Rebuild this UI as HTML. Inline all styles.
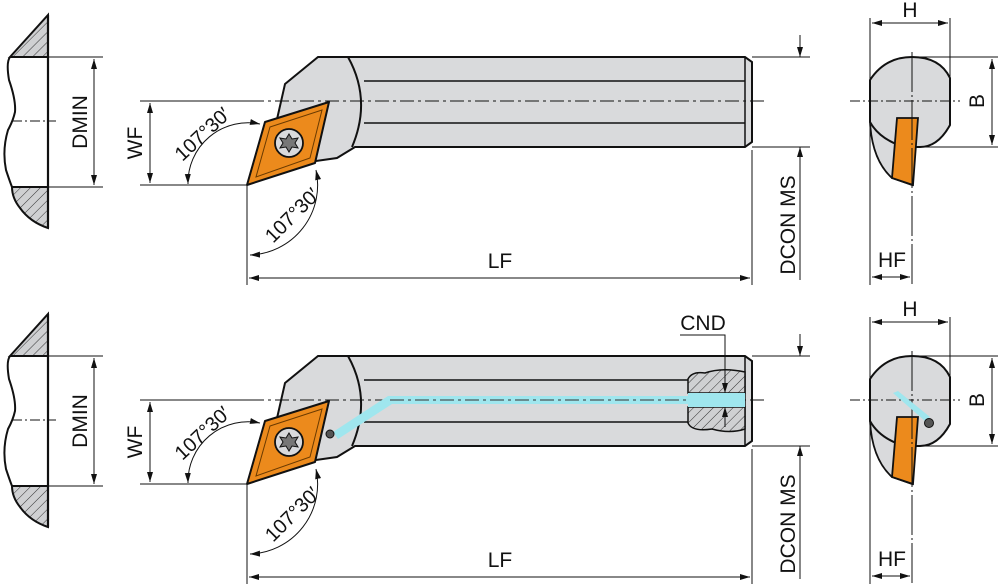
<!DOCTYPE html>
<html><head><meta charset="utf-8"><style>
html,body{margin:0;padding:0;background:#fff;width:1000px;height:587px;overflow:hidden}
svg{display:block}
text{font-family:"Liberation Sans",sans-serif;fill:#111}
</style></head><body>
<svg width="1000" height="587" viewBox="0 0 1000 587" xmlns="http://www.w3.org/2000/svg">
<defs>
<pattern id="h" width="7" height="7" patternUnits="userSpaceOnUse" patternTransform="rotate(45)">
<rect width="7" height="7" fill="#cfd0d2"/><line x1="0" y1="0" x2="0" y2="7" stroke="#333" stroke-width="1"/>
</pattern>
<marker id="a" viewBox="0 0 10 10" refX="10" refY="5" markerWidth="10" markerHeight="10" orient="auto-start-reverse" markerUnits="userSpaceOnUse">
<path d="M0,2 L10,5 L0,8 Z" fill="#111"/></marker>
<g id="tool">
 <path d="M10,57 L48,15 L48,57 Z" fill="url(#h)" stroke="#111" stroke-width="2"/>
 <path d="M12,187 L48,187 L48,228 Q30,222 20,208 Q12,198 12,187 Z" fill="url(#h)" stroke="#111" stroke-width="2"/>
 <path d="M10,57 Q6,62 9,80 Q16,100 15,112 Q13,121 8,130 Q2,150 6,170 Q10,182 12,187" fill="none" stroke="#111" stroke-width="2"/>
 <line x1="48" y1="15" x2="48" y2="228" stroke="#111" stroke-width="2.2"/>
 <line x1="12" y1="121" x2="56" y2="121" stroke="#111" stroke-width="1" stroke-dasharray="10,3,2,3"/>
 <line x1="48" y1="57" x2="103" y2="57" stroke="#111" stroke-width="1"/>
 <line x1="48" y1="187" x2="103" y2="187" stroke="#111" stroke-width="1"/>
 <line x1="94" y1="59" x2="94" y2="185" stroke="#111" stroke-width="1" marker-start="url(#a)" marker-end="url(#a)"/>
 <text x="0" y="0" font-size="21" text-anchor="middle" transform="translate(87,122) rotate(-90)">DMIN</text>
 <path d="M285,84 L318,57 L745,57 L752,62 L752,142 L745,147 L355,147 L337,158 L316,161 L270,150 Z" fill="#d9dadc" stroke="#111" stroke-width="2"/>
 <line x1="745" y1="57" x2="745" y2="147" stroke="#111" stroke-width="1.5"/>
 <path d="M348,57 Q372,100 352,147" fill="none" stroke="#111" stroke-width="2"/>
 <line x1="364" y1="81" x2="745" y2="81" stroke="#111" stroke-width="1.5"/>
 <line x1="364" y1="123" x2="745" y2="123" stroke="#111" stroke-width="1.5"/>
 <line x1="250" y1="101" x2="765" y2="101" stroke="#111" stroke-width="1" stroke-dasharray="14,4,3,4"/>
 <path d="M265,122 L329,102 L315,163 L247,185 Z" fill="#ec8a1c" stroke="#111" stroke-width="2" stroke-linejoin="round"/>
 <path d="M270,127 L322,110 L310,158 L256,177 Z" fill="none" stroke="#6a3a00" stroke-width="1"/>
 <circle cx="289" cy="143" r="14" fill="#d9dadc" stroke="#111" stroke-width="1.8"/>
 <path d="M289,134 L292,139 L298,138 L295,143 L298,148 L292,147 L289,152 L286,147 L280,148 L283,143 L280,138 L286,139 Z" fill="#777" stroke="#111" stroke-width="1"/>
 <line x1="140" y1="101" x2="250" y2="101" stroke="#111" stroke-width="1"/>
 <line x1="140" y1="185" x2="247" y2="185" stroke="#111" stroke-width="1"/>
 <line x1="150" y1="103" x2="150" y2="183" stroke="#111" stroke-width="1" marker-start="url(#a)" marker-end="url(#a)"/>
 <text font-size="21" text-anchor="middle" transform="translate(142,143) rotate(-90)">WF</text>
 <path d="M188,184 A60,60 0 0 1 260,124" fill="none" stroke="#111" stroke-width="1" marker-start="url(#a)" marker-end="url(#a)"/>
 <text font-size="20" text-anchor="middle" transform="translate(207,139) rotate(-43)">107°30′</text>
 <path d="M316,170 A70,70 0 0 1 250,255" fill="none" stroke="#111" stroke-width="1" marker-start="url(#a)" marker-end="url(#a)"/>
 <text font-size="20" text-anchor="middle" transform="translate(297,220) rotate(-45)">107°30′</text>
 <line x1="247" y1="185" x2="247" y2="285" stroke="#111" stroke-width="1"/>
 <line x1="752" y1="150" x2="752" y2="285" stroke="#111" stroke-width="1"/>
 <line x1="249" y1="278" x2="750" y2="278" stroke="#111" stroke-width="1" marker-start="url(#a)" marker-end="url(#a)"/>
 <text x="500" y="268" font-size="21" text-anchor="middle">LF</text>
 <line x1="752" y1="57" x2="810" y2="57" stroke="#111" stroke-width="1"/>
 <line x1="752" y1="147" x2="810" y2="147" stroke="#111" stroke-width="1"/>
 <line x1="800" y1="35" x2="800" y2="57" stroke="#111" stroke-width="1" marker-end="url(#a)"/>
 <line x1="800" y1="280" x2="800" y2="147" stroke="#111" stroke-width="1" marker-end="url(#a)"/>
 <text font-size="21" text-anchor="middle" transform="translate(795,225) rotate(-90)">DCON MS</text>
 <path d="M870,122 Q872,160 892,178 L912,185 L912,150 Z" fill="#d9dadc" stroke="#111" stroke-width="1.8"/>
 <path d="M870,80 Q885,57 912,57 Q940,57 950,78 L950,125 Q938,147 920,147 L905,147 Q880,140 870,122 Z" fill="#d9dadc" stroke="#111" stroke-width="2"/>
 <path d="M897,118 L918,118 L913,185 L892,178 Z" fill="#ec8a1c" stroke="#111" stroke-width="1.8"/>
 <line x1="850" y1="101" x2="960" y2="101" stroke="#111" stroke-width="1" stroke-dasharray="10,3,2,3"/>
 <line x1="912" y1="52" x2="912" y2="285" stroke="#111" stroke-width="1" stroke-dasharray="40,3,2,3"/>
 <line x1="870" y1="18" x2="870" y2="285" stroke="#111" stroke-width="1"/>
 <line x1="950" y1="18" x2="950" y2="78" stroke="#111" stroke-width="1"/>
 <line x1="872" y1="23" x2="948" y2="23" stroke="#111" stroke-width="1" marker-start="url(#a)" marker-end="url(#a)"/>
 <text x="910" y="17" font-size="21" text-anchor="middle">H</text>
 <line x1="912" y1="57" x2="998" y2="57" stroke="#111" stroke-width="1"/>
 <line x1="920" y1="147" x2="998" y2="147" stroke="#111" stroke-width="1"/>
 <line x1="992" y1="59" x2="992" y2="145" stroke="#111" stroke-width="1" marker-start="url(#a)" marker-end="url(#a)"/>
 <text font-size="21" text-anchor="middle" transform="translate(984,101) rotate(-90)">B</text>
 <line x1="872" y1="277" x2="910" y2="277" stroke="#111" stroke-width="1" marker-start="url(#a)" marker-end="url(#a)"/>
 <text x="892" y="267" font-size="21" text-anchor="middle">HF</text>
</g>
</defs>
<use href="#tool"/>
<g transform="translate(0,299)">
 <use href="#tool"/>
 <path d="M333,133 L388,97 L745,97 L745,105 L392,105 L338,140 Z" fill="#9fe6ee"/>
 <line x1="390" y1="101" x2="745" y2="101" stroke="#333" stroke-width="1" stroke-dasharray="14,4,3,4"/>
 <circle cx="330" cy="135" r="4" fill="#555" stroke="#111"/>
 <path d="M688,80 Q692,72 705,74 Q722,68 745,73 L745,94 L688,94 Z" fill="url(#h)" stroke="#111" stroke-width="1.5"/>
 <path d="M688,108 L745,108 L745,130 Q730,135 712,130 Q692,133 688,124 Z" fill="url(#h)" stroke="#111" stroke-width="1.5"/>
 <rect x="688" y="94" width="57" height="14" fill="#9fe6ee"/>
 <line x1="725" y1="76" x2="725" y2="94" stroke="#111" stroke-width="1" marker-end="url(#a)"/>
 <line x1="725" y1="128" x2="725" y2="108" stroke="#111" stroke-width="1" marker-end="url(#a)"/>
 <path d="M893,94 L925,122 L930,118 L898,92 Z" fill="#9fe6ee"/>
 <circle cx="929" cy="124" r="4.5" fill="#555" stroke="#111"/>
</g>
<polyline points="680,335 725,335 725,375" fill="none" stroke="#111" stroke-width="1"/>
<text x="703" y="330" font-size="21" text-anchor="middle">CND</text>
</svg>
</body></html>
